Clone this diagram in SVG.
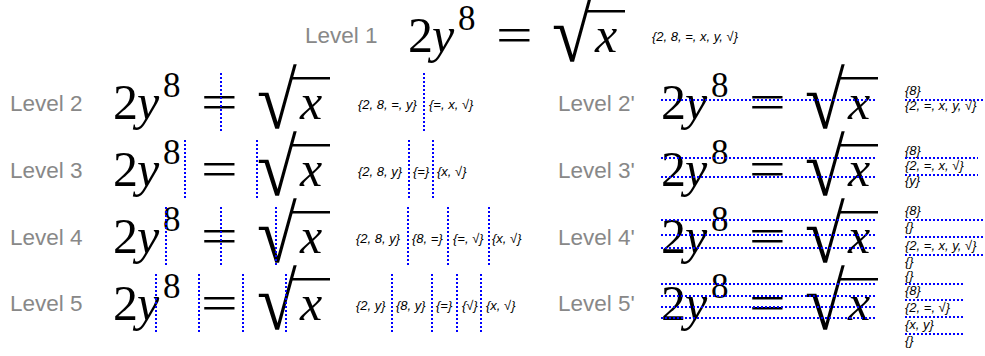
<svg xmlns="http://www.w3.org/2000/svg" width="985" height="356" viewBox="0 0 985 356">
<style>
.lv{font-family:"Liberation Sans",Arial,sans-serif;font-size:22.5px;fill:#888}
.sm{font-family:"Liberation Sans",Arial,sans-serif;font-size:13px;font-style:italic;fill:#000}
.m{font-family:"Liberation Serif","Times New Roman",serif;font-size:50px;fill:#000}
.mi{font-style:italic}
.sup{font-size:35px}
.bar{fill:#000}
.dv{stroke:#00f;stroke-width:2;stroke-dasharray:2 2;fill:none}
</style>
<rect width="985" height="356" fill="#fff"/>

<g id="level-1">
<text class="lv" x="305" y="43">Level 1</text>
<g transform="translate(408,52)">
<text class="m" x="0" y="0">2</text><text class="m mi" x="24" y="0">y</text><text class="m sup" x="50" y="-22">8</text>
<text class="m" transform="translate(88,0) scale(1.3,1)">=</text>
<text class="m" transform="translate(144,9) scale(1.45,1.62)">√</text><rect class="bar" x="179" y="-42" width="38" height="2.5"/>
<text class="m mi" x="187" y="0">x</text>
</g>
<text class="sm" x="652" y="41">{2, 8, =, x, y, √}</text>
</g>

<g id="level-2">
<text class="lv" x="10" y="111">Level 2</text>
<g transform="translate(113,119)">
<text class="m" x="0" y="0">2</text><text class="m mi" x="24" y="0">y</text><text class="m sup" x="50" y="-22">8</text>
<text class="m" transform="translate(88,0) scale(1.3,1)">=</text>
<text class="m" transform="translate(144,9) scale(1.45,1.62)">√</text><rect class="bar" x="179" y="-42" width="38" height="2.5"/>
<text class="m mi" x="187" y="0">x</text>
</g>
<text class="sm" x="358" y="109">{2, 8, =, y}</text>
<text class="sm" x="429" y="109">{=, x, √}</text>
</g>

<g id="level-3">
<text class="lv" x="10" y="178">Level 3</text>
<g transform="translate(113,186)">
<text class="m" x="0" y="0">2</text><text class="m mi" x="24" y="0">y</text><text class="m sup" x="50" y="-22">8</text>
<text class="m" transform="translate(88,0) scale(1.3,1)">=</text>
<text class="m" transform="translate(144,9) scale(1.45,1.62)">√</text><rect class="bar" x="179" y="-42" width="38" height="2.5"/>
<text class="m mi" x="187" y="0">x</text>
</g>
<text class="sm" x="358" y="176">{2, 8, y}</text>
<text class="sm" x="413" y="176">{=}</text>
<text class="sm" x="437" y="176">{x, √}</text>
</g>

<g id="level-4">
<text class="lv" x="10" y="245">Level 4</text>
<g transform="translate(113,253)">
<text class="m" x="0" y="0">2</text><text class="m mi" x="24" y="0">y</text><text class="m sup" x="50" y="-22">8</text>
<text class="m" transform="translate(88,0) scale(1.3,1)">=</text>
<text class="m" transform="translate(144,9) scale(1.45,1.62)">√</text><rect class="bar" x="179" y="-42" width="38" height="2.5"/>
<text class="m mi" x="187" y="0">x</text>
</g>
<text class="sm" x="356" y="243">{2, 8, y}</text>
<text class="sm" x="412" y="243">{8, =}</text>
<text class="sm" x="453" y="243">{=, √}</text>
<text class="sm" x="492" y="243">{x, √}</text>
</g>

<g id="level-5">
<text class="lv" x="10" y="311">Level 5</text>
<g transform="translate(113,320)">
<text class="m" x="0" y="0">2</text><text class="m mi" x="24" y="0">y</text><text class="m sup" x="50" y="-22">8</text>
<text class="m" transform="translate(88,0) scale(1.3,1)">=</text>
<text class="m" transform="translate(144,9) scale(1.45,1.62)">√</text><rect class="bar" x="179" y="-42" width="38" height="2.5"/>
<text class="m mi" x="187" y="0">x</text>
</g>
<text class="sm" x="356" y="310">{2, y}</text>
<text class="sm" x="396" y="310">{8, y}</text>
<text class="sm" x="436" y="310">{=}</text>
<text class="sm" x="462" y="310">{√}</text>
<text class="sm" x="486" y="310">{x, √}</text>
</g>

<g id="level-2p">
<text class="lv" x="558" y="111">Level 2'</text>
<g transform="translate(661,119)">
<text class="m" x="0" y="0">2</text><text class="m mi" x="24" y="0">y</text><text class="m sup" x="50" y="-22">8</text>
<text class="m" transform="translate(88,0) scale(1.3,1)">=</text>
<text class="m" transform="translate(144,9) scale(1.45,1.62)">√</text><rect class="bar" x="179" y="-42" width="38" height="2.5"/>
<text class="m mi" x="187" y="0">x</text>
</g>
<text class="sm" x="905" y="95">{8}</text>
<text class="sm" x="905" y="110">{2, =, x, y, √}</text>
</g>

<g id="level-3p">
<text class="lv" x="558" y="178">Level 3'</text>
<g transform="translate(661,186)">
<text class="m" x="0" y="0">2</text><text class="m mi" x="24" y="0">y</text><text class="m sup" x="50" y="-22">8</text>
<text class="m" transform="translate(88,0) scale(1.3,1)">=</text>
<text class="m" transform="translate(144,9) scale(1.45,1.62)">√</text><rect class="bar" x="179" y="-42" width="38" height="2.5"/>
<text class="m mi" x="187" y="0">x</text>
</g>
<text class="sm" x="905" y="155">{8}</text>
<text class="sm" x="905" y="170">{2, =, x, √}</text>
<text class="sm" x="905" y="185">{y}</text>
</g>

<g id="level-4p">
<text class="lv" x="558" y="245">Level 4'</text>
<g transform="translate(661,253)">
<text class="m" x="0" y="0">2</text><text class="m mi" x="24" y="0">y</text><text class="m sup" x="50" y="-22">8</text>
<text class="m" transform="translate(88,0) scale(1.3,1)">=</text>
<text class="m" transform="translate(144,9) scale(1.45,1.62)">√</text><rect class="bar" x="179" y="-42" width="38" height="2.5"/>
<text class="m mi" x="187" y="0">x</text>
</g>
<text class="sm" x="905" y="215">{8}</text>
<text class="sm" x="905" y="231">{}</text>
<text class="sm" x="905" y="250">{2, =, x, y, √}</text>
<text class="sm" x="905" y="266">{}</text>
</g>

<g id="level-5p">
<text class="lv" x="558" y="311">Level 5'</text>
<g transform="translate(661,320)">
<text class="m" x="0" y="0">2</text><text class="m mi" x="24" y="0">y</text><text class="m sup" x="50" y="-22">8</text>
<text class="m" transform="translate(88,0) scale(1.3,1)">=</text>
<text class="m" transform="translate(144,9) scale(1.45,1.62)">√</text><rect class="bar" x="179" y="-42" width="38" height="2.5"/>
<text class="m mi" x="187" y="0">x</text>
</g>
<text class="sm" x="905" y="280">{}</text>
<text class="sm" x="905" y="295">{8}</text>
<text class="sm" x="905" y="312">{2, =, √}</text>
<text class="sm" x="905" y="329">{x, y}</text>
<text class="sm" x="905" y="345">{}</text>
</g>

<g id="dividers" class="dv">
<path d="M221 73V131M424 73V131"/>
<path d="M185 140V198M257 140V198M409 140V198M433 140V198"/>
<path d="M166 207V265M221 207V265M276 207V265M408 207V265M448 207V265M489 207V265"/>
<path d="M156 274V332M199 274V332M243 274V332M286 274V332M392 274V332M432 274V332M457 274V332M481 274V332"/>
<path d="M661 100H877M905 100H985"/>
<path d="M661 158H877M661 177H877M905 158H978M905 175H978"/>
<path d="M661 220H877M661 235H877M661 248H877M905 220H985M905 237H985M905 255H985"/>
<path d="M661 284H877M661 296H877M661 307H877M661 318H877M905 284H965M905 300H965M905 317H965M905 334H965"/>
</g>
</svg>
